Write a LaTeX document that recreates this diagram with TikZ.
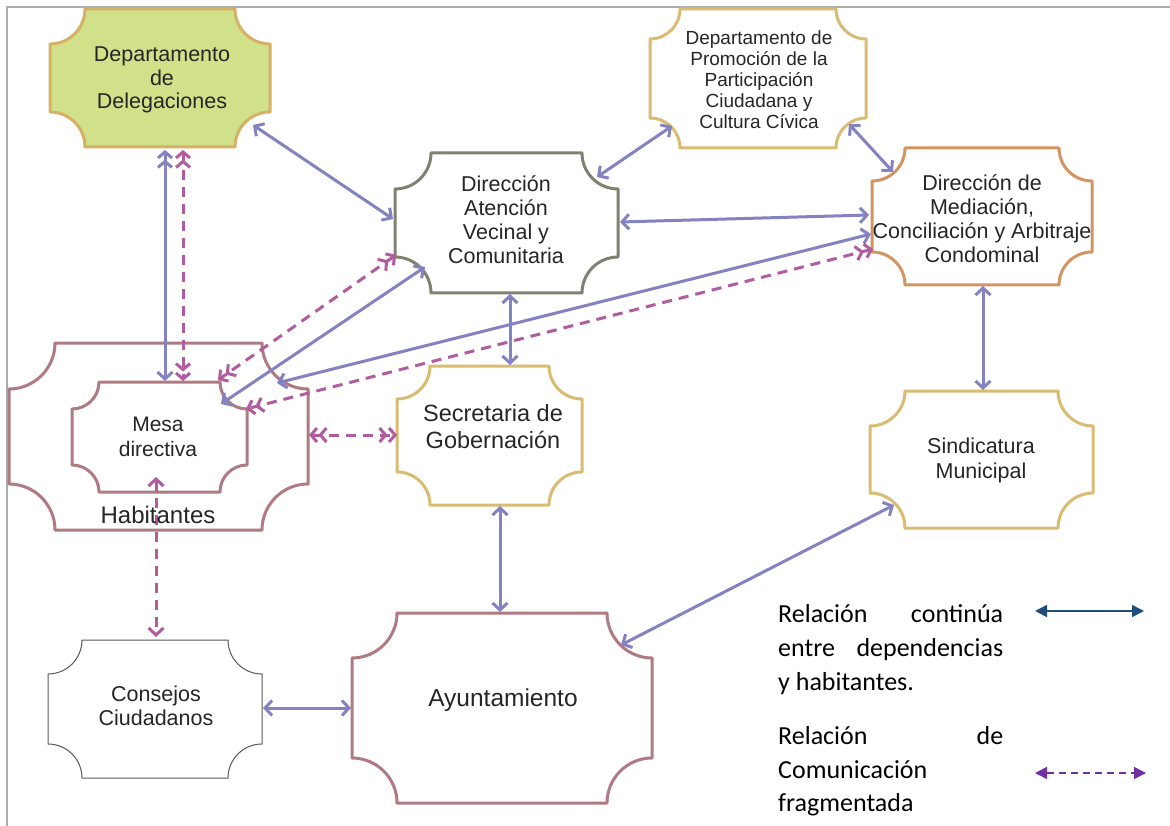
\documentclass[tikz,border=0pt]{standalone}
\usepackage{fontspec}
\setmainfont{Liberation Sans}
\newfontfamily\legfont{Carlito}
\usetikzlibrary{arrows.meta,calc}
\definecolor{solc}{HTML}{8482C0}
\definecolor{dshc}{HTML}{B05C9E}
\definecolor{delfill}{HTML}{D0E18A}
\definecolor{gold}{HTML}{D6B064}
\definecolor{goldl}{HTML}{DABB72}
\definecolor{olive}{HTML}{7F8270}
\definecolor{orng}{HTML}{D29562}
\definecolor{mauve}{HTML}{B07A82}
\definecolor{txt}{HTML}{262626}
\definecolor{legblue}{HTML}{1F4E79}
\definecolor{legpurp}{HTML}{7030A0}
\newcommand{\plaque}[7]{%
  \pgfmathsetmacro\PXa{#3+#7}\pgfmathsetmacro\PXb{#5-#7}%
  \pgfmathsetmacro\PYa{#4+#7}\pgfmathsetmacro\PYb{#6-#7}%
  \pgfmathsetmacro\PK{0.5523*#7}%
  \pgfmathsetmacro\PXc{#3+\PK}\pgfmathsetmacro\PXd{#5-\PK}%
  \pgfmathsetmacro\PYc{#4+\PK}\pgfmathsetmacro\PYd{#6-\PK}%
  \draw[#1] (\PXa,#4) -- (\PXb,#4) .. controls (\PXb,\PYc) and (\PXd,\PYa) .. (#5,\PYa)
     -- (#5,\PYb) .. controls (\PXd,\PYb) and (\PXb,\PYd) .. (\PXb,#6)
     -- (\PXa,#6) .. controls (\PXa,\PYd) and (\PXc,\PYb) .. (#3,\PYb)
     -- (#3,\PYa) .. controls (\PXc,\PYa) and (\PXa,\PYc) .. (\PXa,#4) -- cycle;
  \pgfmathsetmacro\PW{#5-#3}\pgfmathsetmacro\PH{#6-#4}%
  \node[inner sep=0pt,outer sep=0pt,minimum width=\PW pt,minimum height=\PH pt] (#2) at ({(#3+#5)/2},{(#4+#6)/2}) {};%
}
\tikzset{
  box/.style={line width=3pt, line join=round},
  sol/.style={draw=solc, line width=3pt, {Straight Barb[length=7pt,width=15pt]}-{Straight Barb[length=7pt,width=15pt]}},
  solD/.style={draw=solc, line width=3pt, {Straight Barb[length=6pt,width=14pt]Straight Barb[length=6pt,width=14pt]}-{Straight Barb[length=7pt,width=15pt]}},
  dsh/.style={draw=dshc, line width=3pt, dash pattern=on 10pt off 7pt, {Straight Barb[length=6pt,width=14pt]Straight Barb[length=6pt,width=14pt]}-{Straight Barb[length=6pt,width=14pt]Straight Barb[length=6pt,width=14pt]}},
  dshS/.style={draw=dshc, line width=3pt, dash pattern=on 10pt off 7pt, {Straight Barb[length=7pt,width=15pt]}-{Straight Barb[length=7pt,width=15pt]}},
  lbl/.style={text=txt, align=center, inner sep=0pt, font=\fontsize{21.5}{24}\selectfont},
  legt/.style={anchor=base west, inner sep=0pt, text=black, font=\legfont\fontsize{26}{30}\selectfont},
}
\begin{document}
\begin{tikzpicture}[x=1pt,y=-1pt]
\useasboundingbox (0,0) rectangle (1170,826);
\fill[white] (0,0) rectangle (1170,826);
% frame
\draw[black!32, line width=2pt] (7,826) -- (7,7) -- (1170,7);
% boxes
\plaque{box, draw=gold, fill=delfill}{del}{50}{9}{270}{147}{35}
\plaque{box, draw=goldl}{pro}{650}{9}{866}{148}{30}
\plaque{box, draw=olive}{ate}{395}{153}{618}{293}{36}
\plaque{box, draw=orng}{med}{872}{148}{1092}{285}{33}
\plaque{box, draw=mauve}{hab}{9}{343}{308}{530}{46}
\plaque{box, draw=mauve}{mes}{72}{382}{247}{492}{27}
\plaque{box, draw=goldl}{sec}{397}{366}{582}{505}{33}
\plaque{box, draw=goldl}{sin}{870}{391}{1093}{528}{35}
\plaque{draw=black!65, line width=1pt}{con}{48}{640}{262}{778}{34}
\plaque{box, draw=mauve}{ayu}{352}{613}{652}{803}{45}
% solid connectors
\draw[solD] ($(del.north west)+(115,141)$) -- ($(mes.north west)+(93,-1)$);
\draw[sol] ($(del.north west)+(203,116)$) -- ($(ate.north west)+(-2,66)$);
\draw[sol] ($(pro.north west)+(22,117)$) -- ($(ate.north west)+(202,24)$);
\draw[sol] ($(pro.north west)+(199,115)$) -- ($(med.north west)+(21,24)$);
\draw[sol] ($(ate.north west)+(225,69)$) -- ($(med.north west)+(-3,67)$);
\draw[sol] ($(med.north west)+(-1,86)$) -- ($(hab.north west)+(268,40)$);
\draw[sol] ($(ate.north west)+(30,114)$) -- ($(mes.north west)+(149,22)$);
\draw[sol] ($(ate.north west)+(115,141)$) -- ($(sec.north west)+(113,-1)$);
\draw[sol] ($(sec.north west)+(103,140)$) -- ($(ayu.north west)+(148,-1)$);
\draw[sol] ($(med.north west)+(111,138)$) -- ($(sin.north west)+(113,-1)$);
\draw[sol] ($(sin.north west)+(24,114)$) -- ($(ayu.north west)+(269,32)$);
\draw[sol] ($(con.north west)+(215,68)$) -- ($(ayu.north west)+(-1,95)$);
% dashed connectors
\draw[dsh] ($(del.north west)+(133,141)$) -- ($(mes.north west)+(111,-1)$);
\draw[dsh] ($(med.north west)+(1,101)$) -- ($(mes.north west)+(174,27)$);
\draw[dsh] ($(ate.north west)+(1,102)$) -- ($(mes.north west)+(146,-2)$);
\draw[dsh] ($(hab.north west)+(300,92)$) -- ($(sec.north west)+(0,69)$);
\draw[dshS] ($(mes.north west)+(84,95)$) -- ($(con.north west)+(108,-3)$);
% labels
\node[lbl, font=\fontsize{21.5}{23.5}\selectfont] (delT) at (162,80) {Departamento\\de\\Delegaciones};
\node[lbl, font=\fontsize{19}{21}\selectfont] (proT) at (759,80) {Departamento de\\Promoción de la\\Participación\\Ciudadana y\\Cultura Cívica};
\node[lbl] (ateT) at (506,220) {Dirección\\Atención\\Vecinal y\\Comunitaria};
\node[lbl] (medT) at (982,219) {Dirección de\\Mediación,\\Conciliación y Arbitraje\\Condominal};
\node[lbl, font=\fontsize{21}{25}\selectfont] (mesT) at (158,437) {Mesa\\directiva};
\node[lbl, font=\fontsize{24}{27}\selectfont] (habT) at (158,515) {Habitantes};
\node[lbl, font=\fontsize{23.5}{27}\selectfont] (secT) at (493,427) {Secretaria de\\Gobernación};
\node[lbl, font=\fontsize{21.5}{25}\selectfont] (sinT) at (981,460) {Sindicatura\\Municipal};
\node[lbl, font=\fontsize{21.5}{23.5}\selectfont] (conT) at (156,706) {Consejos\\Ciudadanos};
\node[lbl, font=\fontsize{24.5}{27}\selectfont] (ayuT) at (503,700) {Ayuntamiento};
% legend
\node[legt] (l1) at (778,622) {\makebox[225pt][s]{Relación continúa}};
\node[legt] (l2) at (778,656) {\makebox[225pt][s]{entre dependencias}};
\node[legt] (l3) at (778,690) {y habitantes.};
\node[legt] (l4) at (778,744) {\makebox[225pt][s]{Relación de}};
\node[legt] (l5) at (778,778) {Comunicación};
\node[legt] (l6) at (778,811) {fragmentada};
\coordinate (s1) at (1035,611); \coordinate (s2) at (1144,611);
\coordinate (d1) at (1035,773); \coordinate (d2) at (1146,773);
\draw[legblue, line width=1.6pt, {Triangle[length=12pt,width=12pt]}-{Triangle[length=12pt,width=12pt]}] (s1) -- (s2);
\draw[legpurp, line width=1.6pt, dash pattern=on 7pt off 5pt, {Triangle[length=12pt,width=12pt]}-{Triangle[length=12pt,width=12pt]}] (d1) -- (d2);
\end{tikzpicture}
\end{document}
